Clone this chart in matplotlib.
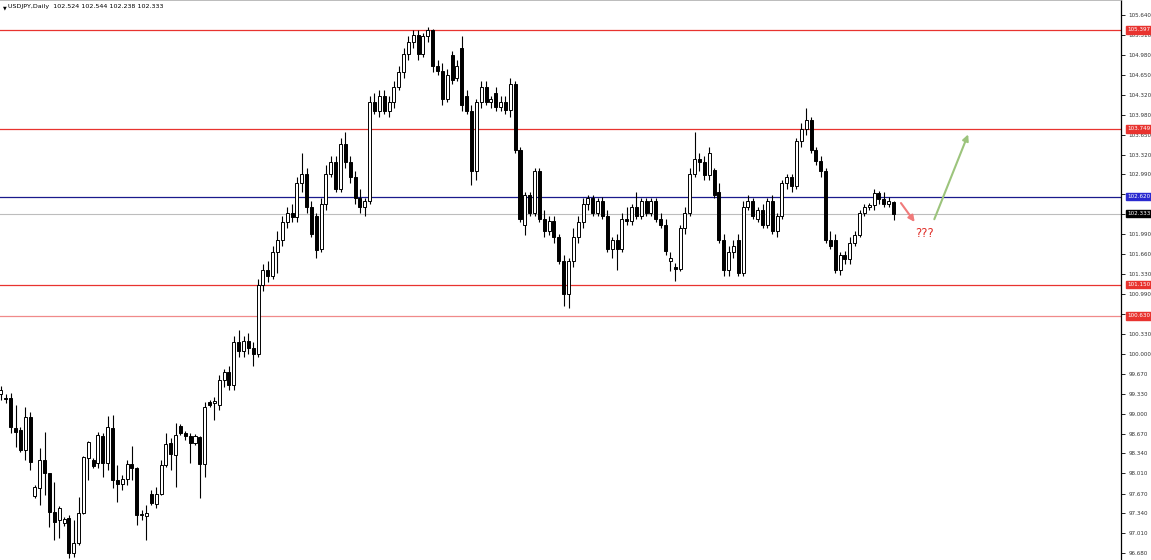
import matplotlib.pyplot as plt
import matplotlib.transforms as mtransforms

# USDJPY daily candles (oldest first)
opens = [99.33, 99.26, 99.26, 98.76, 98.73, 98.40, 98.95, 97.63, 97.76, 98.23,
         98.01, 97.36, 97.23, 97.18, 97.26, 96.68, 96.85, 97.35, 98.26, 98.23,
         98.18, 98.63, 98.18, 98.76, 97.90, 97.83, 97.91, 98.16, 98.10, 97.31,
         97.30, 97.66, 97.50, 97.66, 98.15, 98.51, 98.31, 98.80, 98.68, 98.63,
         98.51, 98.61, 98.16, 99.20, 99.18, 99.15, 99.56, 99.70, 99.48, 100.20,
         100.05, 100.22, 100.10, 100.00, 101.15, 101.40, 101.30, 101.70, 101.90, 102.20,
         102.35, 102.28, 102.85, 103.00, 102.45, 102.30, 101.75, 102.50, 103.00, 103.20,
         102.75, 103.50, 103.20, 102.95, 102.60, 102.45, 102.55, 104.20, 104.05, 104.30,
         104.05, 104.20, 104.45, 104.70, 105.00, 105.20, 105.32, 105.00, 105.30, 105.40,
         104.80, 104.72, 104.25, 104.98, 104.60, 105.10, 104.30, 104.05, 103.05, 104.20,
         104.45, 104.20, 104.35, 104.12, 104.20, 104.06, 104.50, 103.40, 102.15, 102.65,
         102.35, 103.05, 102.25, 102.05, 102.22, 101.95, 101.55, 101.00, 101.55, 101.95,
         102.20, 102.50, 102.60, 102.35, 102.55, 102.30, 101.75, 101.90, 101.75, 102.25,
         102.22, 102.45, 102.30, 102.55, 102.35, 102.55, 102.25, 102.15, 101.55, 101.45,
         101.42, 102.10, 102.35, 103.00, 103.25, 103.20, 102.98, 103.06, 102.70, 101.90,
         101.40, 101.70, 101.90, 101.35, 102.45, 102.55, 102.25, 102.40, 102.15, 102.55,
         102.05, 102.30, 102.85, 102.95, 102.80, 103.55, 103.75, 103.90, 103.40, 103.22,
         103.05, 101.90, 101.90, 101.40, 101.65, 101.58, 101.85, 101.98, 102.35, 102.45,
         102.48, 102.68, 102.58, 102.50, 102.524]
highs = [99.47, 99.33, 99.35, 99.15, 98.78, 99.11, 99.03, 97.81, 98.43, 98.70,
         98.01, 97.86, 97.46, 97.28, 97.31, 97.23, 97.61, 98.30, 98.55, 98.26,
         98.70, 98.68, 98.96, 98.98, 98.15, 97.98, 98.23, 98.46, 98.11, 97.40,
         97.48, 97.73, 97.78, 98.23, 98.68, 98.60, 98.85, 98.83, 98.71, 98.68,
         98.66, 98.63, 99.20, 99.23, 99.28, 99.65, 99.75, 99.80, 100.30, 100.40,
         100.30, 100.35, 100.20, 101.25, 101.50, 101.55, 101.80, 102.05, 102.30, 102.45,
         102.50, 102.95, 103.35, 103.10, 102.55, 102.35, 102.60, 103.15, 103.30, 103.30,
         103.60, 103.70, 103.30, 103.05, 102.75, 102.60, 104.30, 104.35, 104.40, 104.40,
         104.30, 104.55, 104.80, 105.10, 105.30, 105.40, 105.40, 105.35, 105.44, 105.42,
         104.90, 104.85, 104.75, 105.05, 104.90, 105.30, 104.40, 104.15, 104.25, 104.55,
         104.55, 104.30, 104.45, 104.30, 104.30, 104.60, 104.55, 103.45, 102.70, 102.70,
         103.10, 103.10, 102.40, 102.30, 102.30, 102.00, 101.65, 101.60, 102.10, 102.30,
         102.60, 102.65, 102.65, 102.60, 102.62, 102.40, 101.95, 102.00, 102.35, 102.45,
         102.50, 102.70, 102.60, 102.60, 102.60, 102.60, 102.35, 102.25, 101.70, 101.52,
         102.15, 102.45, 103.10, 103.70, 103.35, 103.30, 103.45, 103.10, 102.85, 102.00,
         101.80, 101.90, 102.00, 102.55, 102.65, 102.60, 102.45, 102.50, 102.60, 102.65,
         102.35, 102.90, 103.00, 103.00, 103.60, 103.85, 104.10, 103.95, 103.45, 103.30,
         103.10, 102.05, 102.00, 101.70, 101.72, 101.95, 102.05, 102.40, 102.50, 102.52,
         102.75, 102.72, 102.70, 102.62, 102.544]
lows = [99.23, 99.18, 98.68, 98.45, 98.36, 98.23, 98.06, 97.60, 97.48, 97.65,
        97.11, 96.90, 96.93, 97.13, 96.60, 96.61, 96.81, 97.33, 97.90, 98.10,
        98.10, 97.95, 98.06, 97.76, 97.53, 97.73, 97.81, 97.90, 97.15, 97.23,
        96.90, 97.48, 97.43, 97.65, 98.11, 98.06, 97.78, 98.65, 98.56, 98.18,
        98.48, 97.60, 97.95, 99.11, 98.90, 99.06, 99.45, 99.40, 99.40, 99.95,
        99.95, 100.00, 99.80, 99.95, 101.05, 101.20, 101.25, 101.35, 101.80, 102.10,
        102.20, 102.20, 102.70, 102.35, 101.95, 101.60, 101.70, 102.40, 102.95, 102.70,
        102.70, 103.10, 102.85, 102.50, 102.35, 102.30, 102.50, 104.00, 103.95, 104.00,
        103.95, 104.10, 104.40, 104.60, 104.90, 105.10, 104.90, 104.95, 105.20, 104.70,
        104.65, 104.15, 104.20, 104.50, 104.55, 104.05, 104.00, 102.82, 102.90, 104.10,
        104.15, 104.10, 104.05, 104.05, 104.00, 103.95, 103.35, 102.20, 101.98, 102.30,
        102.30, 102.20, 101.95, 101.98, 101.85, 101.50, 100.80, 100.76, 101.45, 101.85,
        102.10, 102.40, 102.30, 102.30, 102.25, 101.70, 101.60, 101.40, 101.70, 102.15,
        102.15, 102.25, 102.25, 102.30, 102.30, 102.20, 102.10, 101.65, 101.38, 101.22,
        101.38, 102.00, 102.30, 102.95, 103.05, 102.90, 102.90, 102.60, 101.85, 101.30,
        101.30, 101.60, 101.30, 101.30, 102.40, 102.25, 102.20, 102.10, 102.10, 102.00,
        101.95, 102.25, 102.75, 102.70, 102.75, 103.45, 103.65, 103.35, 103.15, 102.95,
        101.85, 101.75, 101.35, 101.32, 101.50, 101.50, 101.80, 101.95, 102.30, 102.40,
        102.40, 102.50, 102.45, 102.45, 102.238]
closes = [99.40, 99.25, 98.78, 98.70, 98.40, 98.95, 98.20, 97.78, 98.23, 98.01,
          97.36, 97.20, 97.43, 97.25, 96.68, 96.85, 97.35, 98.28, 98.53, 98.13,
          98.65, 98.18, 98.78, 97.90, 97.83, 97.91, 98.16, 98.10, 97.31, 97.32,
          97.35, 97.51, 97.66, 98.15, 98.50, 98.33, 98.65, 98.68, 98.63, 98.51,
          98.63, 98.16, 99.11, 99.15, 99.21, 99.56, 99.70, 99.48, 100.20, 100.05,
          100.22, 100.10, 100.00, 101.15, 101.40, 101.30, 101.70, 101.90, 102.20, 102.35,
          102.28, 102.85, 103.00, 102.45, 102.00, 101.73, 102.50, 103.00, 103.20, 102.75,
          103.50, 103.20, 102.95, 102.60, 102.45, 102.55, 104.20, 104.05, 104.30, 104.05,
          104.20, 104.45, 104.70, 105.00, 105.20, 105.32, 105.00, 105.30, 105.40, 104.80,
          104.72, 104.25, 104.65, 104.56, 104.80, 104.15, 104.05, 103.05, 104.20, 104.45,
          104.20, 104.25, 104.12, 104.20, 104.06, 104.50, 103.40, 102.25, 102.65, 102.35,
          103.05, 102.25, 102.05, 102.22, 101.95, 101.55, 101.00, 101.55, 101.95, 102.20,
          102.50, 102.60, 102.35, 102.55, 102.30, 101.75, 101.90, 101.75, 102.25, 102.22,
          102.45, 102.30, 102.55, 102.35, 102.55, 102.25, 102.15, 101.72, 101.60, 101.42,
          102.10, 102.35, 103.00, 103.25, 103.20, 102.98, 103.35, 102.65, 101.90, 101.40,
          101.70, 101.80, 101.35, 102.45, 102.55, 102.30, 102.40, 102.15, 102.55, 102.05,
          102.30, 102.85, 102.95, 102.80, 103.55, 103.75, 103.90, 103.40, 103.22, 103.05,
          101.90, 101.80, 101.40, 101.65, 101.58, 101.85, 101.98, 102.35, 102.45, 102.48,
          102.68, 102.58, 102.50, 102.55, 102.333]

# horizontal levels drawn on the chart
red_levels = [105.397, 103.749, 101.150]
pink_level = 100.630
blue_level = 102.620
last_price = closes[-1]

# scale labels (the ones hidden under price tags are left blank)
price_ticks = [96.680, 97.010, 97.340, 97.670, 98.010, 98.340, 98.670, 99.000,
               99.330, 99.670, 100.000, 100.330, 100.660, 100.990, 101.330, 101.660,
               101.990, 102.330, 102.660, 102.990, 103.320, 103.650, 103.980, 104.320,
               104.650, 104.980, 105.310, 105.640]
hidden_ticks = [100.660, 102.330, 102.660]

header = "USDJPY,Daily  102.524 102.544 102.238 102.333"

fig = plt.figure(figsize=(11.51, 5.6), dpi=100)
ax = fig.add_axes([0, 0, 1121 / 1151, 1])

n = len(closes)
for i in range(n):
    o, hi, lo, c = opens[i], highs[i], lows[i], closes[i]
    ax.vlines(i, lo, hi, color='black', lw=0.8, zorder=2)
    bottom = min(o, c)
    height = max(abs(c - o), 0.012)
    if c >= o:
        ax.bar(i, height, bottom=bottom, width=0.62, color='white',
               edgecolor='black', lw=0.7, zorder=3)
    else:
        ax.bar(i, height, bottom=bottom, width=0.62, color='black',
               edgecolor='black', lw=0.7, zorder=3)

for lv in red_levels:
    ax.axhline(lv, color='#e8332f', lw=0.9, zorder=1)
ax.axhline(pink_level, color='#f08a8a', lw=0.9, zorder=1)
ax.axhline(blue_level, color='#1a1a8c', lw=0.9, zorder=1)
ax.axhline(last_price, color='#bdbdbd', lw=0.8, zorder=1)

ax.set_xlim(-0.2, 230.9)
ax.set_ylim(96.563, 105.897)

ax.yaxis.tick_right()
ax.set_yticks(price_ticks)
ax.set_yticklabels(['' if t in hidden_ticks else '%.3f' % t for t in price_ticks],
                   fontsize=4.1, color='#333333')
ax.tick_params(axis='y', length=3, width=0.6, pad=2.5, color='black')
ax.set_xticks([])
for s in ['left', 'bottom']:
    ax.spines[s].set_visible(False)
ax.spines['right'].set_color('black')
ax.spines['right'].set_linewidth(0.9)
ax.spines['top'].set_color('#b0b0b0')
ax.spines['top'].set_linewidth(1.2)

# price labels on the axis
trans = mtransforms.blended_transform_factory(ax.transAxes, ax.transData)
tags = [(red_levels[0], '#e8332f'), (red_levels[1], '#e8332f'), (blue_level, '#2a2ad0'),
        (last_price, 'black'), (red_levels[2], '#e8332f'), (pink_level, '#e8332f')]
for lv, col in tags:
    ax.text(1.0055, lv, '%.3f' % lv, transform=trans, fontsize=4.1, color='white',
            va='center', ha='left', clip_on=False,
            bbox=dict(boxstyle='square,pad=0.2', fc=col, ec=col))

ax.text(0.007, 0.992, header, transform=ax.transAxes, fontsize=4.6,
        va='top', ha='left', color='black')
ax.text(0.0025, 0.991, '▼', transform=ax.transAxes, fontsize=3.5,
        va='top', ha='left', color='black')

# scenario arrows
ax.annotate('', xy=(188.7, 102.16), xytext=(185.2, 102.55),
            arrowprops=dict(arrowstyle='-|>', color='#f07a7a', lw=1.5,
                            mutation_scale=9))
ax.annotate('', xy=(199.6, 103.70), xytext=(192.2, 102.20),
            arrowprops=dict(arrowstyle='-|>', color='#9cc47c', lw=1.5,
                            mutation_scale=9))
ax.text(190.5, 102.0, '???', color='#e0302a', fontsize=8.5, ha='center', va='center')

fig.savefig('out.png', dpi=100)
